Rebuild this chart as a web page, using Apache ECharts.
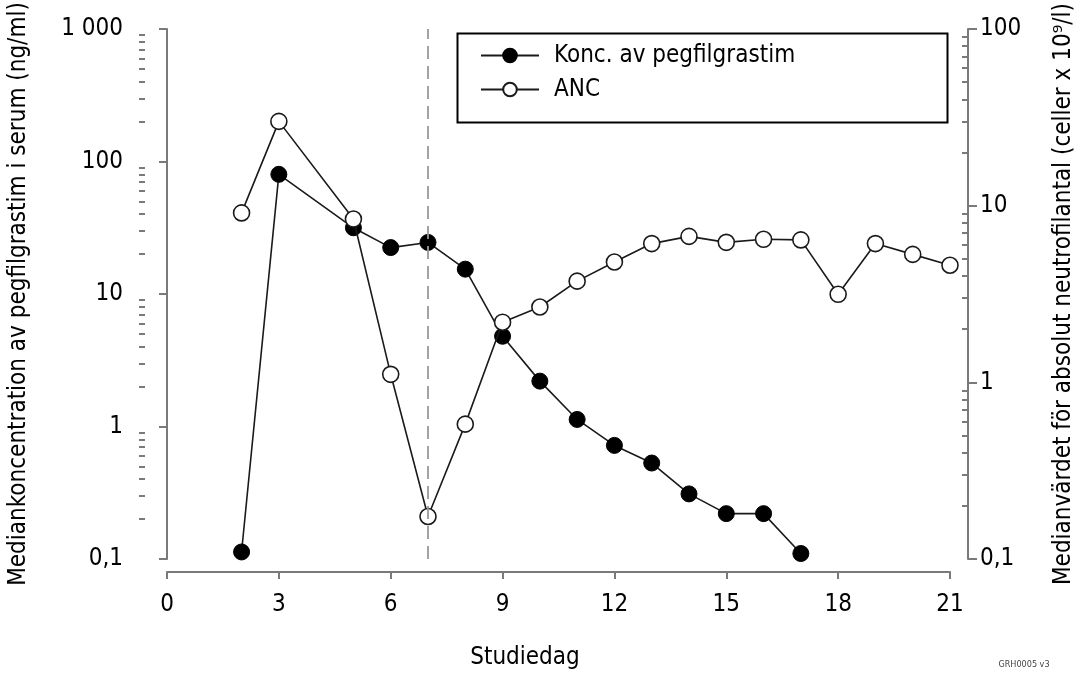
<!DOCTYPE html>
<html>
<head>
<meta charset="utf-8">
<script src="https://cdn.jsdelivr.net/npm/echarts@6/dist/echarts.min.js"></script>
<style>
html,body{margin:0;padding:0;background:#fff;}
#c{width:1078px;height:673px;}
</style>
</head>
<body>
<div id="c"></div>
<script>
// ---- data ----
const concDays   = [2, 3, 5, 6, 7, 8, 9, 10, 11, 12, 13, 14, 15, 16, 17];
const concValues = [0.113, 80, 31.6, 22.4, 24.5, 15.4, 4.8, 2.2, 1.13, 0.72, 0.53, 0.31, 0.22, 0.22, 0.11];
const ancDays    = [2, 3, 5, 6, 7, 8, 9, 10, 11, 12, 13, 14, 15, 16, 17, 18, 19, 20, 21];
const ancValues  = [9.1, 30, 8.4, 1.11, 0.174, 0.58, 2.19, 2.67, 3.74, 4.8, 6.1, 6.7, 6.2, 6.45, 6.4, 3.15, 6.1, 5.3, 4.6];
const seriesNames = ['Konc. av pegfilgrastim', 'ANC'];
const leftLabels  = {0.1: '0,1', 1: '1', 10: '10', 100: '100', 1000: '1 000'};
const rightLabels = {0.1: '0,1', 1: '1', 10: '10', 100: '100'};
const doseDay = 7;

const FONT = "'Liberation Sans Narrow', 'DejaVu Sans Condensed', 'Roboto Condensed', 'Liberation Sans', Arial, sans-serif";
const FS = 24;
const AX = '#7a7a7a';

function minors(lo, hi) {
  const out = [];
  for (let d = lo; d < hi; d *= 10) for (let k = 2; k <= 9; k++) out.push(+(d * k).toPrecision(3));
  return out;
}
const concPts = concDays.map((d, i) => [d, concValues[i]]);
const ancPts  = ancDays.map((d, i) => [d, ancValues[i]]);

const chart = echarts.init(document.getElementById('c'), null, {renderer: 'canvas'});
chart.setOption({
  backgroundColor: '#fff',
  animation: false,
  textStyle: {fontFamily: FONT},
  grid: {left: 167, right: 128, top: 29, bottom: 114, outerBoundsMode: 'none', containLabel: false},
  xAxis: {
    type: 'value', min: 0, max: 21, interval: 3, offset: 13,
    axisLine: {lineStyle: {color: AX, width: 2}},
    axisTick: {show: true, length: 7, lineStyle: {color: AX, width: 2}},
    axisLabel: {color: '#000', fontSize: FS, fontFamily: FONT, margin: 21},
    splitLine: {show: false}
  },
  yAxis: [
    { // left: concentration
      type: 'log', logBase: 10, min: 0.1, max: 1000, position: 'left', offset: 22,
      name: 'Mediankoncentration av pegfilgrastim i serum (ng/ml)',
      nameLocation: 'middle', nameRotate: 90, nameGap: 114,
      nameTextStyle: {color: '#000', fontSize: FS, fontFamily: FONT},
      axisLine: {show: true, lineStyle: {color: AX, width: 2}},
      axisTick: {show: true, length: 8, lineStyle: {color: AX, width: 2}},
      axisLabel: {color: '#000', fontSize: FS, fontFamily: FONT, margin: 22,
                  formatter: v => leftLabels[+v.toPrecision(3)] ?? ''},
      splitLine: {show: false}
    },
    { // right: ANC
      type: 'log', logBase: 10, min: 0.1, max: 100, position: 'right', offset: 18,
      name: 'Medianvärdet för absolut neutrofilantal (celler x 10⁹/l)',
      nameLocation: 'middle', nameRotate: 90, nameGap: 84,
      nameTextStyle: {color: '#000', fontSize: FS, fontFamily: FONT},
      axisLine: {show: true, lineStyle: {color: AX, width: 2}},
      axisTick: {show: true, length: 9, lineStyle: {color: AX, width: 2}},
      axisLabel: {color: '#000', fontSize: FS, fontFamily: FONT, margin: 12,
                  formatter: v => rightLabels[+v.toPrecision(3)] ?? ''},
      splitLine: {show: false}
    },
    { // left minor ticks
      type: 'log', logBase: 10, min: 0.1, max: 1000, position: 'left', offset: 22,
      axisLine: {show: false},
      axisTick: {show: true, length: 6, customValues: minors(0.1, 1000), lineStyle: {color: AX, width: 2}},
      axisLabel: {show: false}, splitLine: {show: false}
    },
    { // right minor ticks (inside)
      type: 'log', logBase: 10, min: 0.1, max: 100, position: 'right', offset: 18,
      axisLine: {show: false},
      axisTick: {show: true, inside: true, length: 6, customValues: minors(0.1, 100), lineStyle: {color: AX, width: 2}},
      axisLabel: {show: false}, splitLine: {show: false}
    }
  ],
  legend: {
    orient: 'vertical', left: 480, top: 42, padding: 0,
    itemWidth: 58, itemHeight: 17, itemGap: 7,
    data: seriesNames,
    textStyle: {color: '#000', fontSize: FS, fontFamily: FONT, lineHeight: 27, padding: [0, 0, 0, 10]}
  },
  series: [
    {
      name: seriesNames[0], type: 'line', yAxisIndex: 0, data: concPts,
      symbol: 'circle', symbolSize: 16,
      lineStyle: {color: '#1a1a1a', width: 1.6},
      itemStyle: {color: '#000', borderColor: '#000', borderWidth: 1},
      markLine: {
        silent: true, symbol: 'none', label: {show: false},
        lineStyle: {color: '#9a9a9a', type: [13, 7], width: 1.8},
        data: [{xAxis: doseDay}]
      },
      z: 3
    },
    {
      name: seriesNames[1], type: 'line', yAxisIndex: 1, data: ancPts,
      symbol: 'circle', symbolSize: 16,
      lineStyle: {color: '#1a1a1a', width: 1.6},
      itemStyle: {color: '#fff', borderColor: '#1a1a1a', borderWidth: 1.6},
      z: 4
    }
  ],
  graphic: [
    {type: 'rect', left: 455, top: 31, shape: {width: 490, height: 89},
     style: {fill: 'none', stroke: '#000', lineWidth: 2}, z: 10},
    {type: 'text', x: 525, y: 658, style: {text: 'Studiedag', fill: '#000', font: FS + 'px ' + FONT, align: 'center', verticalAlign: 'middle'}},
    {type: 'text', x: 1024, y: 665, style: {text: 'GRH0005 v3', fill: '#444', font: '9px ' + FONT, align: 'center', verticalAlign: 'middle'}}
  ]
});
</script>
</body>
</html>
